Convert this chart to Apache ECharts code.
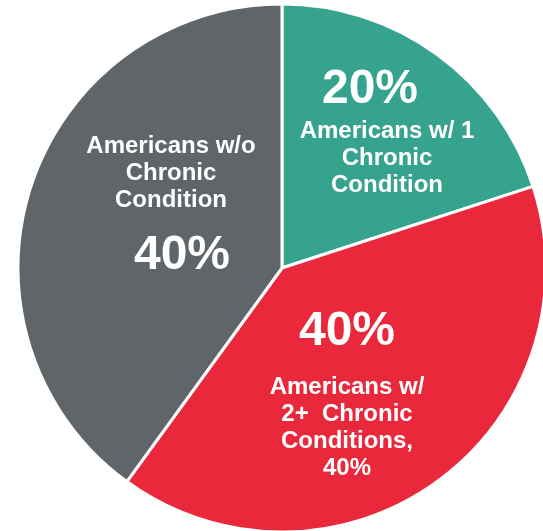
<!DOCTYPE html>
<html><head><meta charset="utf-8">
<script src="https://cdn.jsdelivr.net/npm/echarts@6/dist/echarts.min.js"></script>
<style>html,body{margin:0;padding:0;background:#fff}#c{width:543px;height:531px}</style>
</head><body><div id="c"></div>
<script>
const categories = ['Americans w/ 1 Chronic Condition', 'Americans w/ 2+ Chronic Conditions', 'Americans w/o Chronic Condition'];
const values = [20, 40, 40];
const colors = ['#35A38E', '#E9283C', '#5F6568'];
const labelTexts = [
  '{big|20%}\n{txt|Americans w/ 1}\n{txt|Chronic}\n{txt|Condition}',
  '{bigR|40%}\n{txt|Americans w/}\n{txt|2+  Chronic}\n{txt|Conditions,}\n{txt|40%}',
  '{txt|Americans w/o}\n{txt|Chronic}\n{txt|Condition}\n{bigG|40%}'
];
const labelPos = [[387, 130], [347, 386], [171, 215]];

const FONT = 'Liberation Sans, Arial, sans-serif';
const chart = echarts.init(document.getElementById('c'));
chart.setOption({
  animation: false,
  series: [{
    type: 'pie',
    center: [282, 268],
    radius: 264,
    startAngle: 90,
    clockwise: true,
    data: categories.map((n, i) => ({
      name: n, value: values[i],
      itemStyle: { color: colors[i] },
      label: { formatter: labelTexts[i] }
    })),
    itemStyle: { borderColor: '#fff', borderWidth: 3 },
    label: {
      show: true,
      position: 'inside',
      color: '#fff',
      fontFamily: FONT,
      fontWeight: 'bold',
      align: 'center',
      rich: {
        big: { fontSize: 48, lineHeight: 56, fontWeight: 'bold', color: '#fff', fontFamily: FONT, padding: [0, 34, 0, 0] },
        bigR: { fontSize: 48, lineHeight: 84, fontWeight: 'bold', color: '#fff', fontFamily: FONT },
        bigG: { fontSize: 48, lineHeight: 84, fontWeight: 'bold', color: '#fff', fontFamily: FONT, padding: [0, 0, 0, 22] },
        txt: { fontSize: 24, lineHeight: 27, fontWeight: 'bold', color: '#fff', fontFamily: FONT }
      }
    },
    labelLine: { show: false },
    labelLayout: function (p) {
      return { x: labelPos[p.dataIndex][0], y: labelPos[p.dataIndex][1], align: 'center', verticalAlign: 'middle' };
    },
    emphasis: { disabled: true }
  }]
});
</script></body></html>
